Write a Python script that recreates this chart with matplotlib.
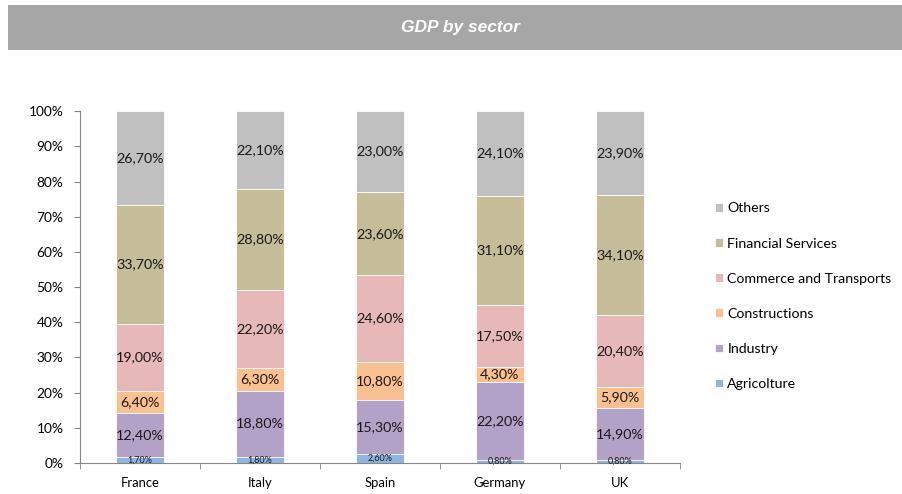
import numpy as np
import matplotlib.pyplot as plt
from matplotlib.patches import Rectangle

countries = ["France", "Italy", "Spain", "Germany", "UK"]
sectors = ["Agricolture", "Industry", "Constructions", "Commerce and Transports",
           "Financial Services", "Others"]
agricolture = [1.7, 1.8, 2.6, 0.8, 0.8]
industry = [12.4, 18.8, 15.3, 22.2, 14.9]
constructions = [6.4, 6.3, 10.8, 4.3, 5.9]
commerce = [19.0, 22.2, 24.6, 17.5, 20.4]
financial = [33.7, 28.8, 23.6, 31.1, 34.1]
others = [26.7, 22.1, 23.0, 24.1, 23.9]
colors = ["#8eb4e3", "#b3a2c7", "#fac090", "#e6b9b8", "#c4bd97", "#c0c0c0"]

plt.rcParams['font.family'] = ['Lato', 'DejaVu Sans']

data = np.array([agricolture, industry, constructions, commerce, financial, others])
# 100% stacked: each column scaled to its own total
share = data / data.sum(axis=0) * 100

fig = plt.figure(figsize=(9.03, 4.94), dpi=100)
ax = fig.add_axes([0.0886, 0.0628, 0.753 - 0.0886, 0.775 - 0.0628])

# title band
fig.patches.append(Rectangle((0.0089, 0.899), 1.0, 0.091, transform=fig.transFigure,
                             facecolor="#a6a6a6", edgecolor="none", zorder=0))
fig.text(0.51, 0.944, "GDP by sector", color="white", fontsize=12.5,
         fontstyle="italic", fontweight="bold", ha="center", va="center",
         family=["Liberation Sans", "DejaVu Sans"])

x = np.arange(len(countries))
bottom = np.zeros(len(countries))
handles = []
for i, name in enumerate(sectors):
    bars = ax.bar(x, share[i], 0.4, bottom=bottom, color=colors[i],
                  edgecolor="white", linewidth=0.6, label=name)
    handles.append(bars)
    for j in range(len(countries)):
        txt = ("%.2f%%" % data[i][j]).replace(".", ",")
        fs = 6.5 if i == 0 else 10.3
        ax.text(x[j], bottom[j] + share[i][j] / 2, txt, ha="center", va="center",
                fontsize=fs, color="#1a1a1a")
    bottom += share[i]

ax.set_xlim(-0.5, len(countries) - 0.5)
ax.set_ylim(0, 100)
ax.set_yticks(np.arange(0, 101, 10))
ax.set_yticklabels(["%d%%" % v for v in range(0, 101, 10)], fontsize=9.9)
ax.set_xticks(x)
ax.set_xticklabels(countries, fontsize=9.4)
ax.set_xticks(np.arange(-0.5, len(countries)), minor=True)
ax.tick_params(axis="x", which="major", length=0, pad=10)
ax.tick_params(axis="x", which="minor", length=4, color="#868686")
ax.tick_params(axis="y", length=4, color="#868686", pad=8)
for s in ["top", "right"]:
    ax.spines[s].set_visible(False)
for s in ["left", "bottom"]:
    ax.spines[s].set_color("#868686")

leg = fig.legend(handles[::-1], sectors[::-1], loc="upper left",
                 bbox_to_anchor=(0.778, 0.616), frameon=False, fontsize=10.2,
                 labelspacing=1.63, handlelength=0.55, handleheight=0.55,
                 handletextpad=0.3)

fig.savefig("out.png", dpi=100)
